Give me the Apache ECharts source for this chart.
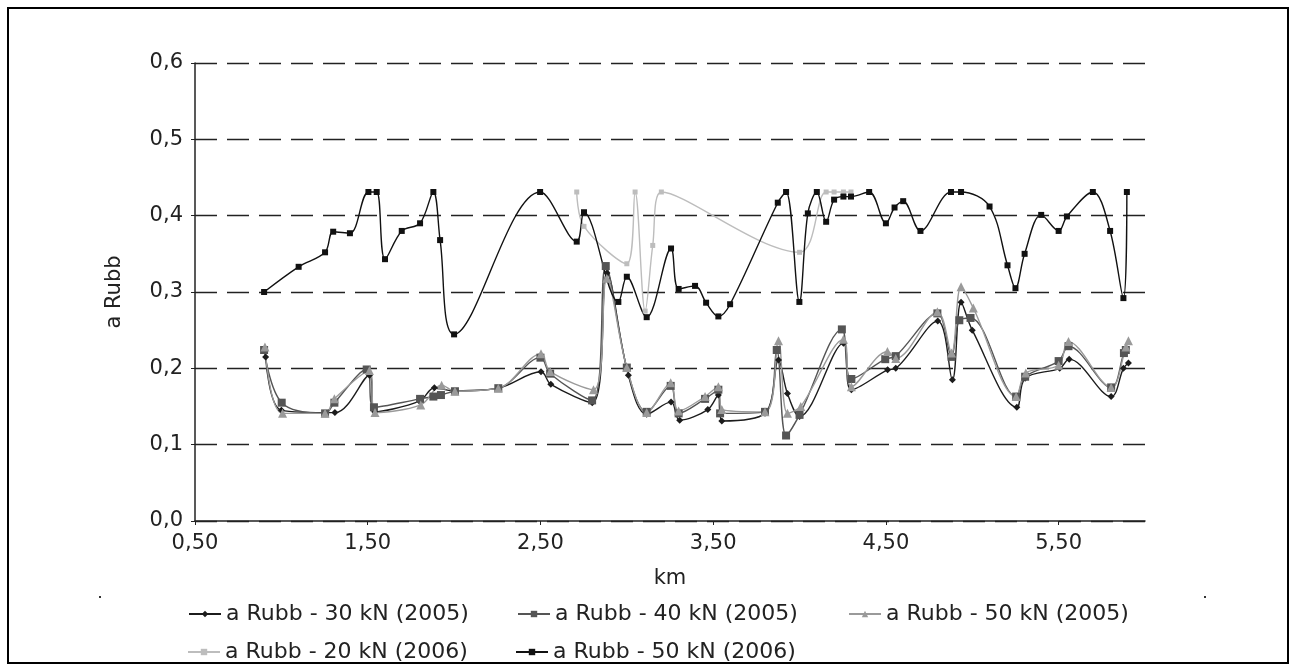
<!DOCTYPE html>
<html>
<head>
<meta charset="utf-8">
<script src="https://cdn.jsdelivr.net/npm/echarts@6/dist/echarts.min.js"></script>
<style>
html,body{margin:0;padding:0;background:#fff;}
#c{width:1292px;height:671px;}
</style>
</head>
<body>
<div id="c"></div>
<script>
const seriesNames = [
  'a Rubb - 30 kN (2005)',
  'a Rubb - 40 kN (2005)',
  'a Rubb - 50 kN (2005)',
  'a Rubb - 20 kN (2006)',
  'a Rubb - 50 kN (2006)'
];
const xTicks = [0.5, 1.5, 2.5, 3.5, 4.5, 5.5];

// a Rubb - 30 kN (2005)
const km30_05 = [0.909,1.0,1.31,1.51,1.54,1.80,1.886,2.005,2.256,2.503,2.56,2.80,2.885,3.009,3.115,3.256,3.306,3.469,3.53,3.55,3.80,3.878,3.93,4.0,4.254,4.30,4.51,4.557,4.80,4.885,4.935,5.0,5.258,5.306,5.506,5.561,5.804,5.875,5.904];
const val30_05 = [0.215,0.145,0.142,0.191,0.143,0.157,0.1745,0.170,0.174,0.1955,0.179,0.155,0.325,0.191,0.140,0.156,0.132,0.146,0.165,0.131,0.141,0.211,0.167,0.137,0.233,0.172,0.198,0.200,0.262,0.185,0.2865,0.250,0.149,0.187,0.200,0.212,0.163,0.200,0.207];

// a Rubb - 40 kN (2005)
const km40_05 = [0.90,1.002,1.253,1.307,1.494,1.536,1.803,1.88,1.924,2.005,2.256,2.50,2.556,2.799,2.878,3.0,3.115,3.254,3.30,3.453,3.53,3.54,3.80,3.868,3.922,4.0,4.245,4.30,4.496,4.557,4.798,4.88,4.925,4.99,5.254,5.306,5.50,5.557,5.804,5.878,5.889];
const val40_05 = [0.224,0.155,0.141,0.155,0.1985,0.149,0.160,0.163,0.165,0.170,0.174,0.214,0.193,0.158,0.334,0.201,0.143,0.177,0.141,0.160,0.172,0.141,0.143,0.224,0.112,0.139,0.251,0.186,0.212,0.216,0.272,0.215,0.263,0.266,0.163,0.189,0.2095,0.229,0.175,0.220,0.224];

// a Rubb - 50 kN (2005)
const km50_05 = [0.905,1.007,1.253,1.307,1.51,1.542,1.807,1.928,2.005,2.256,2.503,2.556,2.807,2.884,3.0,3.115,3.254,3.30,3.453,3.53,3.55,3.80,3.878,3.93,4.007,4.254,4.30,4.509,4.557,4.798,4.88,4.935,5.006,5.254,5.31,5.50,5.557,5.804,5.89,5.904];
const val50_05 = [0.228,0.141,0.141,0.160,0.197,0.142,0.152,0.178,0.170,0.174,0.219,0.196,0.172,0.318,0.201,0.142,0.181,0.144,0.163,0.176,0.146,0.143,0.236,0.141,0.150,0.238,0.176,0.222,0.213,0.274,0.220,0.307,0.279,0.163,0.194,0.204,0.235,0.175,0.228,0.236];

// a Rubb - 20 kN (2006)
const km20_06 = [2.71,2.752,3.0,3.048,3.106,3.15,3.20,4.0,4.154,4.20,4.254,4.298];
const val20_06 = [0.431,0.386,0.337,0.431,0.275,0.361,0.431,0.352,0.431,0.431,0.431,0.431];

// a Rubb - 50 kN (2006)
const km50_06 = [0.9,1.10,1.253,1.30,1.397,1.504,1.552,1.60,1.697,1.803,1.88,1.919,2.0,2.498,2.71,2.752,2.951,3.0,3.115,3.256,3.30,3.395,3.459,3.53,3.598,3.874,3.922,3.999,4.048,4.10,4.154,4.20,4.254,4.298,4.403,4.50,4.55,4.60,4.70,4.877,4.935,5.10,5.204,5.25,5.303,5.399,5.50,5.548,5.698,5.798,5.875,5.895];
const val50_06 = [0.300,0.333,0.352,0.379,0.377,0.431,0.431,0.343,0.380,0.390,0.431,0.368,0.2445,0.431,0.366,0.4045,0.287,0.320,0.267,0.357,0.304,0.308,0.286,0.268,0.284,0.417,0.431,0.287,0.403,0.431,0.392,0.421,0.425,0.425,0.431,0.390,0.4107,0.419,0.380,0.431,0.431,0.412,0.335,0.305,0.350,0.401,0.380,0.399,0.431,0.380,0.292,0.431];

const pair = (xs, ys) => xs.map((x, i) => [x, ys[i]]);

const styles = [
  {color:'#1c1c1c', symbol:'diamond', size:7},
  {color:'#555555', symbol:'rect', size:8},
  {color:'#9a9a9a', symbol:'triangle', size:9},
  {color:'#bdbdbd', symbol:'rect', size:5},
  {color:'#111111', symbol:'rect', size:6}
];
const datasets = [
  pair(km30_05, val30_05),
  pair(km40_05, val40_05),
  pair(km50_05, val50_05),
  pair(km20_06, val20_06),
  pair(km50_06, val50_06)
];

const FONT = 'DejaVu Sans';
const TXT = '#222';

const legendPos = [
  {left:183, top:598},
  {left:512, top:598},
  {left:843, top:598},
  {left:182, top:636},
  {left:510, top:636}
];

const chart = echarts.init(document.getElementById('c'), null, {renderer:'canvas'});
chart.setOption({
  animation:false,
  backgroundColor:'#fff',
  textStyle:{fontFamily:FONT, color:TXT},
  grid:{left:195, right:147, top:63, bottom:150},
  legend: seriesNames.map((n, i) => ({
    data:[n],
    left:legendPos[i].left,
    top:legendPos[i].top,
    itemWidth:32,
    itemHeight:8,
    itemGap:0,
    textStyle:{fontFamily:FONT, fontSize:22, color:TXT},
    selectedMode:false
  })),
  xAxis:{
    type:'value',
    min:0.5,
    max:6.0,
    name:'km',
    nameLocation:'middle',
    nameGap:47,
    nameTextStyle:{fontFamily:FONT, fontSize:21, color:TXT},
    axisLine:{show:true, lineStyle:{color:'#222', width:1.5}},
    axisTick:{show:true, length:4, customValues:xTicks, lineStyle:{color:'#222'}},
    axisLabel:{customValues:xTicks, margin:12, fontFamily:FONT, fontSize:21, color:TXT,
      formatter:v => v.toFixed(2).replace('.', ',')},
    splitLine:{show:false}
  },
  yAxis:{
    type:'value',
    min:0,
    max:0.6,
    interval:0.1,
    name:'a Rubb',
    nameLocation:'middle',
    nameGap:70,
    nameTextStyle:{fontFamily:FONT, fontSize:21, color:TXT},
    axisLine:{show:true, lineStyle:{color:'#222', width:1.5}},
    axisTick:{show:true, length:4, lineStyle:{color:'#222'}},
    axisLabel:{margin:12, fontFamily:FONT, fontSize:21, color:TXT,
      formatter:v => v.toFixed(1).replace('.', ',')},
    splitLine:{show:true, lineStyle:{color:'#222', width:1.3, type:[22,10]}}
  },
  graphic:[
    {type:'rect', shape:{x:8, y:8, width:1280, height:655}, style:{fill:'none', stroke:'#000', lineWidth:2}, silent:true},
    {type:'rect', shape:{x:99, y:596, width:2, height:2}, style:{fill:'#333'}, silent:true},
    {type:'rect', shape:{x:1204, y:596, width:2, height:2}, style:{fill:'#333'}, silent:true}
  ],
  series: seriesNames.map((n, i) => ({
    name:n,
    type:'line',
    data:datasets[i],
    smooth:0.35,
    symbol:styles[i].symbol,
    symbolSize:styles[i].size,
    showAllSymbol:true,
    lineStyle:{color:styles[i].color, width:1.4},
    itemStyle:{color:styles[i].color},
    emphasis:{disabled:true}
  }))
});
</script>
</body>
</html>
